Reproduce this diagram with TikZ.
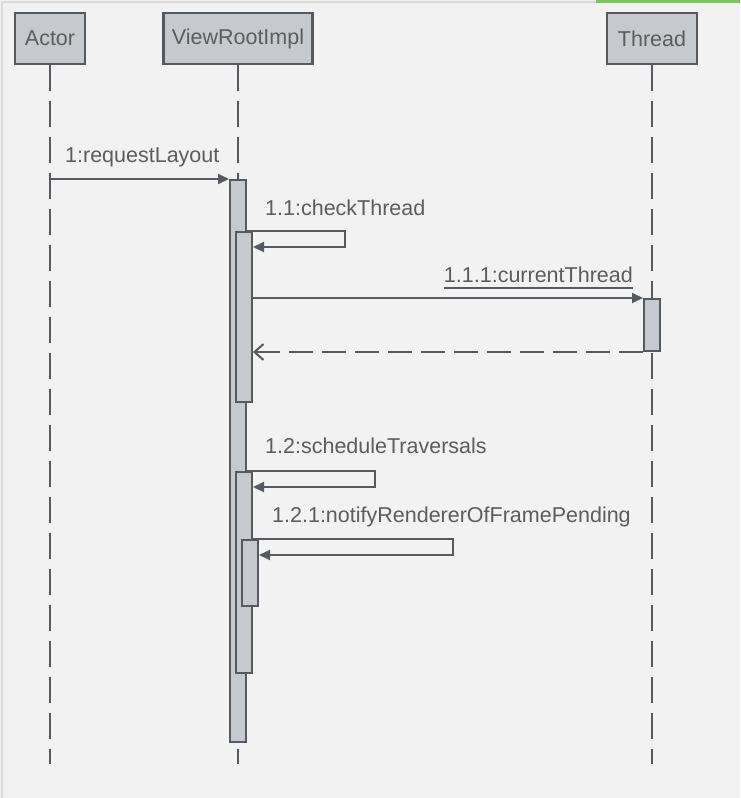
\documentclass[tikz,border=0pt]{standalone}
\usepackage{fontspec}
\setmainfont{Liberation Sans}
\usetikzlibrary{arrows.meta}

\definecolor{bgc}{HTML}{F2F2F2}
\definecolor{linec}{HTML}{565A5F}
\definecolor{boxc}{HTML}{C6CACE}
\definecolor{textc}{HTML}{5C5C5C}
\definecolor{edgec}{HTML}{DADADA}
\definecolor{greenc}{HTML}{7CC65A}

\tikzset{
    head/.style={draw=linec, fill=boxc, line width=2.4pt, minimum height=51pt, text=textc, inner sep=0pt},
    life/.style={draw=linec, line width=2pt, dash pattern=on 26pt off 10pt},
    bar/.style={draw=linec, fill=boxc, line width=2pt, minimum width=16pt, inner sep=0pt},
    msg/.style={draw=linec, line width=2pt, -{Triangle[length=11pt,width=10pt]}},
    ret/.style={draw=linec, line width=2pt, dash pattern=on 24pt off 9pt, -{Straight Barb[length=9pt,width=16pt]}},
    msgtext/.style={text=textc, inner sep=0pt, anchor=base west},
}

\begin{document}
\begin{tikzpicture}[x=1pt, y=-1pt, font=\fontsize{21.5pt}{26pt}\selectfont]
    \useasboundingbox (0,0) rectangle (740,798);
    \fill[bgc] (0,0) rectangle (740,798);
    \draw[edgec, line width=2pt] (2,798) -- (2,2) -- (596,2);
    \draw[greenc, line width=3pt] (596,1.5) -- (740,1.5);

    % heads
    \node[head, minimum width=70pt] (actor) at (50,38.5) {Actor};
    \node[head, minimum width=149pt] (vri) at (238,38.5) {ViewRootImpl};
    \node[head, minimum width=90pt] (thread) at (652,38.5) {Thread};

    \coordinate (lifeend) at (0,764);
    \foreach \n in {actor,vri,thread} {
        \draw[life] (\n.south) -- (\n.south |- lifeend);
    }

    % activations
    \node[bar, minimum height=562pt] (b1) at (238,461) {};
    \node[bar, minimum height=170pt] (b2) at (244,317) {};
    \node[bar, minimum height=52pt] (bt) at (652,325) {};
    \node[bar, minimum height=201pt] (b3) at (244,572.5) {};
    \node[bar, minimum height=66pt] (b4) at (250,573) {};

    % messages
    \draw[msg] (actor.south |- b1.north) -- (b1.north west);
    \draw[msg] (b2.north -| b1.east) -- ++(98,0) |- ([yshift=-16pt]b2.north east);
    \draw[msg] (b2.east |- bt.north) -- (bt.north west);
    \draw[ret] (bt.south west) -- (b2.east |- bt.south);
    \draw[msg] (b3.north -| b1.east) -- ++(128,0) |- ([yshift=-16pt]b3.north east);
    \draw[msg] (b4.north -| b3.east) -- ++(200,0) |- ([yshift=-16pt]b4.north east);

    % labels
    \node[msgtext] (l1) at (65,162) {1:requestLayout};
    \node[msgtext] (l11) at (265,215) {1.1:checkThread};
    \node[msgtext, anchor=base east] (l111) at (633,282) {1.1.1:currentThread};
    \draw[linec, line width=2pt] ([yshift=-6pt]l111.base west) -- ([yshift=-6pt]l111.base east);
    \node[msgtext] (l12) at (265,453) {1.2:scheduleTraversals};
    \node[msgtext] (l121) at (272,522) {1.2.1:notifyRendererOfFramePending};
\end{tikzpicture}
\end{document}
